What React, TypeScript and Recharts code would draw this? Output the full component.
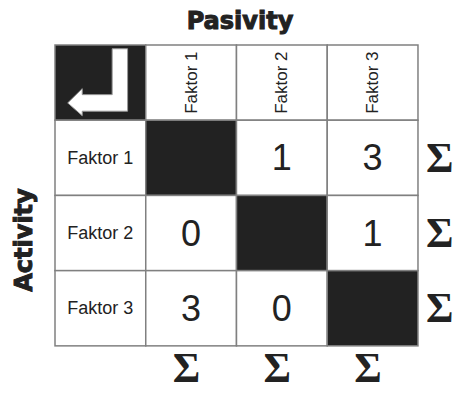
import { ScatterChart, Scatter, XAxis, YAxis, ReferenceArea } from 'recharts'

// cross-impact matrix: row = acting factor, column = influenced factor
const factors = ['Faktor 1', 'Faktor 2', 'Faktor 3']
const faktor1Row: (number | null)[] = [null, 1, 3]
const faktor2Row: (number | null)[] = [0, null, 1]
const faktor3Row: (number | null)[] = [3, 0, null]
const matrixRows = [faktor1Row, faktor2Row, faktor3Row]

const titleTop = 'Pasivity'
const titleSide = 'Activity'
const sumSymbol = 'Σ'

const W = 457
const H = 394
const GRID = '#808080'
const DARK = '#222'
const SANS = '"Liberation Sans", Arial, sans-serif'
const SERIF = '"Liberation Serif", "Times New Roman", serif'
const HEAVY = '"DejaVu Sans", sans-serif'

type Box = { x: number; y: number; width: number; height: number }

function Arrow({ x, y, width: w, height: h }: Box) {
  const p = (fx: number, fy: number) => `${x + fx * w},${y + fy * h}`
  const d = `M${p(0.63, 0.05)} L${p(0.8, 0.05)} L${p(0.8, 0.88)} L${p(0.3, 0.88)} L${p(0.3, 0.94)} L${p(0.14, 0.77)} L${p(0.3, 0.58)} L${p(0.3, 0.66)} L${p(0.63, 0.66)} Z`
  return <path d={d} fill="#fff" stroke="#999" strokeWidth={1} />
}

function cellShape(fill: string, content?: (b: Box) => JSX.Element | null) {
  return (props: any) => {
    const b: Box = { x: props.x, y: props.y, width: props.width, height: props.height }
    return (
      <g>
        <rect x={b.x} y={b.y} width={b.width} height={b.height} fill={fill} stroke={GRID} strokeWidth={1.5} />
        {content ? content(b) : null}
      </g>
    )
  }
}

const n = factors.length
const rightSums = factors.map((f, i) => ({ key: f, x: n + 1.24, y: i + 1.5 }))
const bottomSums = factors.map((f, i) => ({ key: f, x: i + 1.45, y: n + 1.3 }))

const sigmaShape = (props: any) => (
  <text
    x={props.cx}
    y={props.cy}
    textAnchor="middle"
    dominantBaseline="central"
    fontFamily={SERIF}
    fontWeight="bold"
    fontSize={42}
    fill={DARK}
  >
    {sumSymbol}
  </text>
)

export default function App() {
  return (
    <div style={{ position: 'absolute', left: 0, top: 0, background: '#fff' }}>
      <ScatterChart width={W} height={H} margin={{ top: 45, right: 0, bottom: 0, left: 55 }}>
        <XAxis type="number" dataKey="x" domain={[0, 4.43]} allowDataOverflow hide />
        <YAxis type="number" dataKey="y" domain={[0, 4.64]} allowDataOverflow reversed hide />

        {/* corner */}
        <ReferenceArea x1={0} x2={1} y1={0} y2={1} ifOverflow="visible" shape={cellShape(DARK, (b) => <Arrow {...b} />)} />

        {/* column headers */}
        {factors.map((f, c) => (
          <ReferenceArea
            key={`col-${f}`}
            x1={c + 1}
            x2={c + 2}
            y1={0}
            y2={1}
            ifOverflow="visible"
            shape={cellShape('#fff', (b) => {
              const cx = b.x + b.width / 2
              const cy = b.y + b.height / 2
              return (
                <text
                  x={cx}
                  y={cy}
                  transform={`rotate(-90 ${cx} ${cy})`}
                  textAnchor="middle"
                  dominantBaseline="central"
                  fontFamily={SANS}
                  fontSize={17}
                  fill={DARK}
                >
                  {f}
                </text>
              )
            })}
          />
        ))}

        {/* row headers */}
        {factors.map((f, r) => (
          <ReferenceArea
            key={`row-${f}`}
            x1={0}
            x2={1}
            y1={r + 1}
            y2={r + 2}
            ifOverflow="visible"
            shape={cellShape('#fff', (b) => (
              <text
                x={b.x + b.width / 2}
                y={b.y + b.height / 2}
                textAnchor="middle"
                dominantBaseline="central"
                fontFamily={SANS}
                fontSize={18}
                fill={DARK}
              >
                {f}
              </text>
            ))}
          />
        ))}

        {/* matrix body */}
        {matrixRows.map((row, r) =>
          row.map((v, c) => (
            <ReferenceArea
              key={`cell-${r}-${c}`}
              x1={c + 1}
              x2={c + 2}
              y1={r + 1}
              y2={r + 2}
              ifOverflow="visible"
              shape={cellShape(v === null ? DARK : '#fff', (b) =>
                v === null ? null : (
                  <text
                    x={b.x + b.width / 2}
                    y={b.y + b.height / 2}
                    textAnchor="middle"
                    dominantBaseline="central"
                    fontFamily={SANS}
                    fontSize={36}
                    fill={DARK}
                  >
                    {v}
                  </text>
                )
              )}
            />
          ))
        )}

        <Scatter data={rightSums} shape={sigmaShape} isAnimationActive={false} />
        <Scatter data={bottomSums} shape={sigmaShape} isAnimationActive={false} />

        <text
          x={240}
          y={21}
          textAnchor="middle"
          dominantBaseline="central"
          fontFamily={HEAVY}
          fontWeight="bold"
          fontSize={24}
          fill={DARK}
          stroke={DARK}
          strokeWidth={1}
        >
          {titleTop}
        </text>
        <text
          x={24}
          y={240}
          transform="rotate(-90 24 240)"
          textAnchor="middle"
          dominantBaseline="central"
          fontFamily={HEAVY}
          fontWeight="bold"
          fontSize={24}
          fill={DARK}
          stroke={DARK}
          strokeWidth={1}
        >
          {titleSide}
        </text>
      </ScatterChart>
    </div>
  )
}
